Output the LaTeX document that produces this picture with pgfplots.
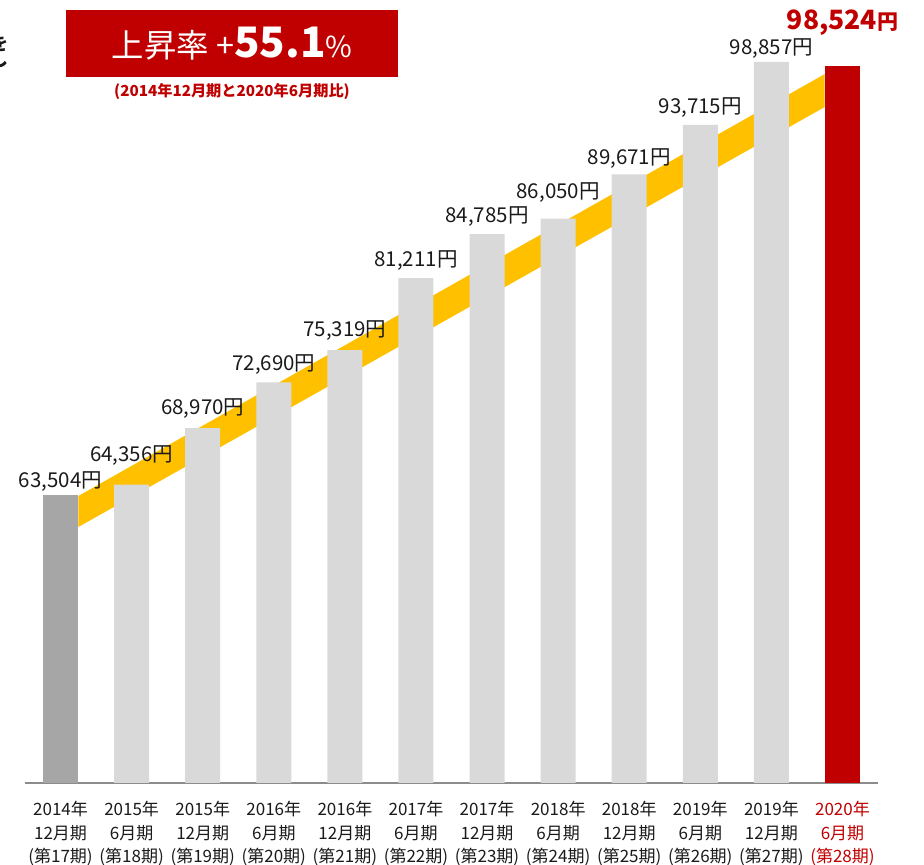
\documentclass[border=0pt]{standalone}
\usepackage{fontspec}
\setmainfont{Noto Sans CJK JP}
\usepackage{pgfplots}
\pgfplotsset{compat=1.18}
\usepackage{pgfplotstable}
\definecolor{myred}{HTML}{C00000}
\definecolor{myyellow}{HTML}{FFC000}
\definecolor{lgray}{HTML}{D9D9D9}
\definecolor{dgray}{HTML}{A6A6A6}
\definecolor{axgray}{HTML}{8C8C8C}
\definecolor{txt}{HTML}{1A1A1A}

\pgfplotstableread{
x y label dy
0 63504 63,504円 1.5
}\firstbar
\pgfplotstableread{
x y label dy
1 64356 64,356円 9.5
2 68970 68,970円 4.5
3 72690 72,690円 4
4 75319 75,319円 4.5
5 81211 81,211円 3.5
6 84785 84,785円 3.5
7 86050 86,050円 8
8 89671 89,671円 3
9 93715 93,715円 3.5
10 98857 98,857円 1.5
}\graybars
\pgfplotstableread{
x y
11 98524
}\lastbar

\begin{document}
\begin{tikzpicture}
\begin{axis}[
  at={(12.5pt,41pt)}, anchor=south west,
  scale only axis, width=426.5pt, height=391.5pt,
  xmin=-0.5, xmax=11.5, ymin=40000, ymax=103900,
  axis y line=none, axis x line*=bottom,
  x axis line style={axgray, line width=1pt},
  xtick={0,...,11}, major tick length=0pt,
  xticklabels={
    {2014年\\12月期\\(第17期)},
    {2015年\\6月期\\(第18期)},
    {2015年\\12月期\\(第19期)},
    {2016年\\6月期\\(第20期)},
    {2016年\\12月期\\(第21期)},
    {2017年\\6月期\\(第22期)},
    {2017年\\12月期\\(第23期)},
    {2018年\\6月期\\(第24期)},
    {2018年\\12月期\\(第25期)},
    {2019年\\6月期\\(第26期)},
    {2019年\\12月期\\(第27期)},
    {\textcolor{myred}{2020年}\\\textcolor{myred}{6月期}\\\textcolor{myred}{(第28期)}}
  },
  xticklabel style={align=center, font=\fontsize{8.5}{11.75}\selectfont, text=txt, inner sep=0pt, yshift=-9pt},
  nodes near coords style={font=\fontsize{10.25}{12}\selectfont, text=txt, inner sep=0pt, anchor=south},
]
% rising band behind the bars
\addplot[fill=myyellow, draw=none, forget plot] coordinates {
  (0.25,63420) (10.75,97854) (10.75,95162) (0.25,60892)
} -- cycle;
% bars
\addplot[ybar, bar width=17.5pt, bar shift=0pt, fill=dgray, draw=none,
  point meta=explicit symbolic, nodes near coords,
  visualization depends on={\thisrow{dy} \as \dy},
  nodes near coords style={yshift=\dy pt}]
  table[x=x, y=y, meta=label] {\firstbar};
\addplot[ybar, bar width=17.5pt, bar shift=0pt, fill=lgray, draw=none,
  point meta=explicit symbolic, nodes near coords,
  visualization depends on={\thisrow{dy} \as \dy},
  nodes near coords style={yshift=\dy pt}]
  table[x=x, y=y, meta=label] {\graybars};
\addplot[ybar, bar width=17.5pt, bar shift=0pt, fill=myred, draw=none,
  nodes near coords={{\fontsize{13.3}{14}\selectfont\bfseries 98,524}{\fontsize{10.5}{12}\selectfont\bfseries 円}},
  nodes near coords style={text=myred, yshift=15pt}]
  table[x=x, y=y] {\lastbar};
\end{axis}
% title box
\fill[myred] (33pt,394pt) rectangle (199pt,427.5pt);
\node[text=white, inner sep=0pt] at (116pt,410.5pt)
  {{\fontsize{16.2}{18}\selectfont 上昇率 +}{\fontsize{21}{22}\selectfont\bfseries 55.1}{\fontsize{14.5}{16}\selectfont\%}};
\node[text=myred, inner sep=0pt, font=\fontsize{7.6}{10}\selectfont\bfseries] at (116pt,386.5pt)
  {(2014年12月期と2020年6月期比)};
% cut-off text at left edge
\node[anchor=east, inner sep=0pt, font=\fontsize{9}{10}\selectfont\bfseries, text=txt] at (4.5pt,410.5pt) {を};
\node[anchor=east, inner sep=0pt, font=\fontsize{9}{10}\selectfont\bfseries, text=txt] at (4.5pt,402.5pt) {し};
\pgfresetboundingbox
\path[use as bounding box] (0,0) rectangle (462pt,432.5pt);
\end{tikzpicture}
\end{document}
